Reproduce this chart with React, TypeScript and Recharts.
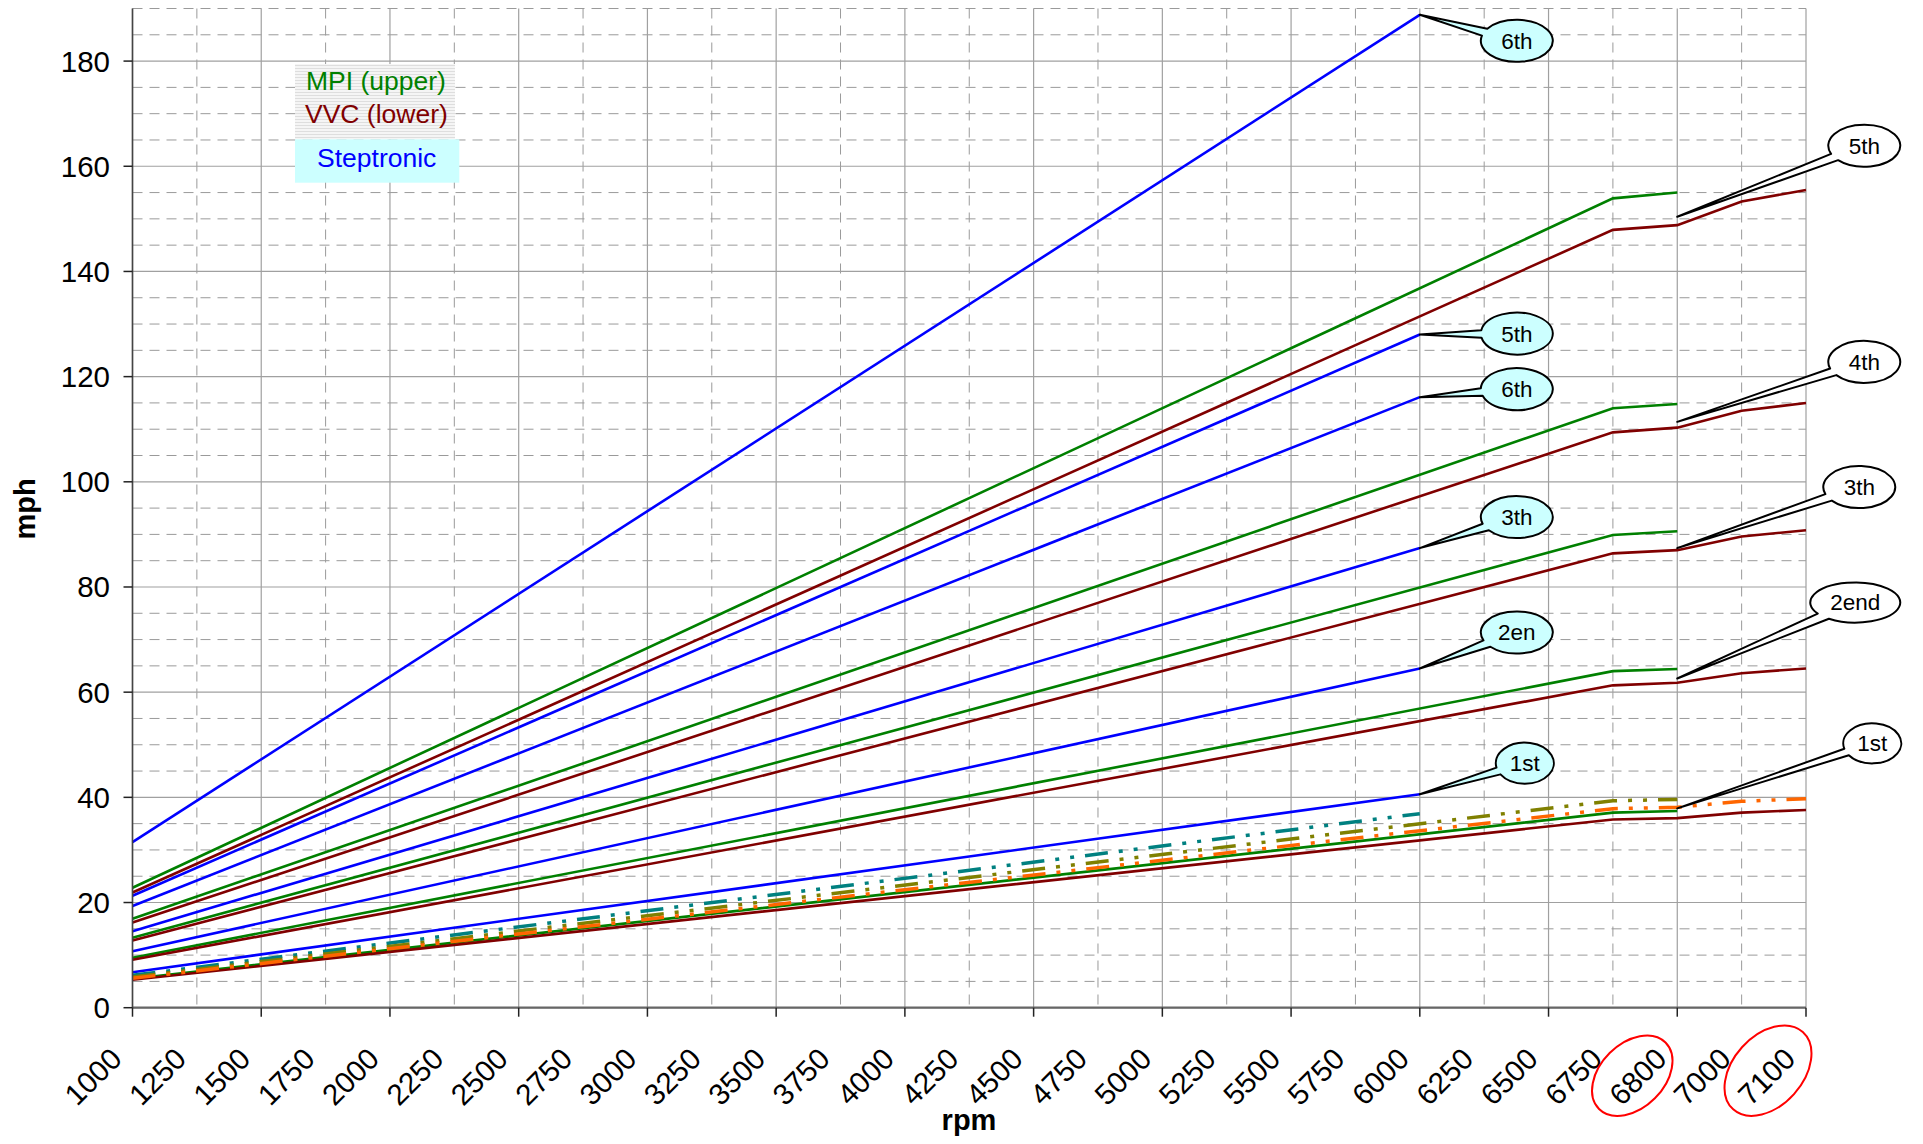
import React from 'react';
import { LineChart, Line, XAxis, YAxis, CartesianGrid, ReferenceDot } from 'recharts';

const FONT = '"Liberation Sans", Arial, Helvetica, sans-serif';
const N = null;

// ---------- categories / ticks ----------
const rpmCategories = ['1000', '1250', '1500', '1750', '2000', '2250', '2500', '2750', '3000', '3250', '3500', '3750', '4000', '4250', '4500', '4750', '5000', '5250', '5500', '5750', '6000', '6250', '6500', '6750', '6800', '7000', '7100'];
const majorRpm = ['1000', '1500', '2000', '2500', '3000', '3500', '4000', '4500', '5000', '5500', '6000', '6500', '6800', '7100'];
const minorRpm = ['1250', '1750', '2250', '2750', '3250', '3750', '4250', '4750', '5250', '5750', '6250', '6750', '7000'];
const circledRpm = ['6800', '7100'];
const yMajor = [0, 20, 40, 60, 80, 100, 120, 140, 160, 180];
const yMinor = [5, 10, 15, 25, 30, 35, 45, 50, 55, 65, 70, 75, 85, 90, 95, 105, 110, 115, 125, 130, 135, 145, 150, 155, 165, 170, 175, 185, 190];

// ---------- Steptronic (blue), 1000..6000 rpm ----------
const step6 = [31.5, N, N, N, N, N, N, N, N, N, N, N, N, N, N, N, N, N, N, N, 188.8, N, N, N, N, N, N];
const step5 = [21.3, N, N, N, N, N, N, N, N, N, N, N, N, N, N, N, N, N, N, N, 128.0, N, N, N, N, N, N];
const step4 = [19.35, N, N, N, N, N, N, N, N, N, N, N, N, N, N, N, N, N, N, N, 116.1, N, N, N, N, N, N];
const step3 = [14.55, N, N, N, N, N, N, N, N, N, N, N, N, N, N, N, N, N, N, N, 87.4, N, N, N, N, N, N];
const step2 = [10.75, N, N, N, N, N, N, N, N, N, N, N, N, N, N, N, N, N, N, N, 64.5, N, N, N, N, N, N];
const step1 = [6.75, N, N, N, N, N, N, N, N, N, N, N, N, N, N, N, N, N, N, N, 40.6, N, N, N, N, N, N];

// ---------- MPI (green), 1000..6800 rpm ----------
const mpi5 = [22.8, N, N, N, N, N, N, N, N, N, N, N, N, N, N, N, N, N, N, N, N, N, N, 153.9, 155.0, N, N];
const mpi4 = [16.9, N, N, N, N, N, N, N, N, N, N, N, N, N, N, N, N, N, N, N, N, N, N, 114.0, 114.8, N, N];
const mpi3 = [13.3, N, N, N, N, N, N, N, N, N, N, N, N, N, N, N, N, N, N, N, N, N, N, 89.9, 90.6, N, N];
const mpi2 = [9.5, N, N, N, N, N, N, N, N, N, N, N, N, N, N, N, N, N, N, N, N, N, N, 64.0, 64.4, N, N];
const mpi1 = [5.5, N, N, N, N, N, N, N, N, N, N, N, N, N, N, N, N, N, N, N, N, N, N, 37.1, 37.4, N, N];

// ---------- VVC (dark red), 1000..7100 rpm ----------
const vvc5 = [21.9, N, N, N, N, N, N, N, N, N, N, N, N, N, N, N, N, N, N, N, N, N, N, 147.9, 148.8, 153.3, 155.5];
const vvc4 = [16.2, N, N, N, N, N, N, N, N, N, N, N, N, N, N, N, N, N, N, N, N, N, N, 109.4, 110.3, 113.5, 115.0];
const vvc3 = [12.8, N, N, N, N, N, N, N, N, N, N, N, N, N, N, N, N, N, N, N, N, N, N, 86.4, 87.0, 89.6, 90.8];
const vvc2 = [9.1, N, N, N, N, N, N, N, N, N, N, N, N, N, N, N, N, N, N, N, N, N, N, 61.3, 61.8, 63.6, 64.5];
const vvc1 = [5.3, N, N, N, N, N, N, N, N, N, N, N, N, N, N, N, N, N, N, N, N, N, N, 35.8, 36.05, 37.1, 37.6];

// ---------- dash-dot-dot 1st gear variants ----------
const tealFirst = [6.15, N, N, N, N, N, N, N, N, N, N, N, N, N, N, N, N, N, N, N, 36.9, N, N, N, N, N, N];
const oliveFirst = [5.84, N, N, N, N, N, N, N, N, N, N, N, N, N, N, N, N, N, N, N, N, N, N, 39.35, 39.6, N, N];
const orangeFirst = [5.6, N, N, N, N, N, N, N, N, N, N, N, N, N, N, N, N, N, N, N, N, N, N, 37.85, 38.1, 39.25, 39.75];

// ---------- callouts ----------
const stepCalloutRpm = '6000';
const stepCalloutLabels = ['6th', '5th', '6th', '3th', '2en', '1st'];
const stepCalloutValues = [188.8, 128.0, 116.1, 87.4, 64.5, 40.6];
const engineCalloutRpm = '6800';
const engineCalloutLabels = ['5th', '4th', '3th', '2end', '1st'];
const engineCalloutValues = [150.4, 111.4, 87.4, 62.6, 37.9];

// styling for callouts (pixel offsets of the balloon from the pointed point)
const stepCalloutStyle = [
  { dx: 97, dy: 26, rx: 36, ry: 21 },
  { dx: 97, dy: -1, rx: 36, ry: 21 },
  { dx: 97, dy: -8, rx: 36, ry: 21 },
  { dx: 97, dy: -31, rx: 36, ry: 21 },
  { dx: 97, dy: -36, rx: 36, ry: 21 },
  { dx: 105, dy: -31, rx: 29, ry: 20.5 },
];
const engineCalloutStyle = [
  { dx: 187, dy: -71, rx: 36, ry: 21 },
  { dx: 187, dy: -60, rx: 36, ry: 21 },
  { dx: 182, dy: -61, rx: 36, ry: 21 },
  { dx: 178, dy: -76, rx: 45, ry: 20 },
  { dx: 195, dy: -65, rx: 29, ry: 20 },
];

const series = [
  { key: 'step6', values: step6, color: '#0000FF' },
  { key: 'step5', values: step5, color: '#0000FF' },
  { key: 'step4', values: step4, color: '#0000FF' },
  { key: 'step3', values: step3, color: '#0000FF' },
  { key: 'step2', values: step2, color: '#0000FF' },
  { key: 'step1', values: step1, color: '#0000FF' },
  { key: 'mpi5', values: mpi5, color: '#008000' },
  { key: 'mpi4', values: mpi4, color: '#008000' },
  { key: 'mpi3', values: mpi3, color: '#008000' },
  { key: 'mpi2', values: mpi2, color: '#008000' },
  { key: 'mpi1', values: mpi1, color: '#008000' },
  { key: 'vvc5', values: vvc5, color: '#800000' },
  { key: 'vvc4', values: vvc4, color: '#800000' },
  { key: 'vvc3', values: vvc3, color: '#800000' },
  { key: 'vvc2', values: vvc2, color: '#800000' },
  { key: 'vvc1', values: vvc1, color: '#800000' },
  { key: 'teal1', values: tealFirst, color: '#008080', dash: '23 11 4 11 4 11' },
  { key: 'olive1', values: oliveFirst, color: '#808000', dash: '23 11 4 11 4 11' },
  { key: 'orange1', values: orangeFirst, color: '#FF6600', dash: '23 11 4 11 4 11' },
];

const data = rpmCategories.map((rpm, i) => {
  const row: any = { rpm };
  series.forEach((s) => {
    row[s.key] = s.values[i];
  });
  return row;
});

const W = 1910;
const H = 1130;

const XTick = (props: any) => {
  const { x, y, payload } = props;
  const label = String(payload.value);
  const axisY = y - 9;
  const major = majorRpm.indexOf(label) >= 0;
  const ax = x - 9;
  const ay = axisY + 53;
  const ci = circledRpm.indexOf(label);
  return (
    <g>
      {major && <line x1={x} x2={x} y1={axisY} y2={axisY + 9} stroke="#222" strokeWidth={1.5} />}
      <text x={ax} y={ay} transform={`rotate(-45 ${ax} ${ay})`} textAnchor="end" fontSize={29.5} fontFamily={FONT} fill="#000">
        {label}
      </text>
      {ci === 0 && (
        <ellipse cx={x - 45} cy={axisY + 68} rx={47} ry={32} transform={`rotate(-45 ${x - 45} ${axisY + 68})`} fill="none" stroke="#FF0000" strokeWidth={2} />
      )}
      {ci === 1 && (
        <ellipse cx={x - 38} cy={axisY + 63} rx={52} ry={35} transform={`rotate(-48 ${x - 38} ${axisY + 63})`} fill="none" stroke="#FF0000" strokeWidth={2} />
      )}
    </g>
  );
};

const makeCallout = (label: string, st: any, fill: string) => (props: any) => {
  const { cx, cy } = props;
  if (cx == null || cy == null) return <g />;
  const ex = cx + st.dx;
  const ey = cy + st.dy;
  const phi = Math.atan2((cy - ey) / st.ry, (cx - ex) / st.rx);
  const d = 0.18;
  const b1x = ex + st.rx * Math.cos(phi + d);
  const b1y = ey + st.ry * Math.sin(phi + d);
  const b2x = ex + st.rx * Math.cos(phi - d);
  const b2y = ey + st.ry * Math.sin(phi - d);
  const path = `M ${b1x} ${b1y} L ${cx} ${cy} L ${b2x} ${b2y} A ${st.rx} ${st.ry} 0 1 0 ${b1x} ${b1y} Z`;
  return (
    <g>
      <path d={path} fill={fill} stroke="#000" strokeWidth={2} strokeLinejoin="round" />
      <text x={ex} y={ey + 8} textAnchor="middle" fontSize={22.5} fontFamily={FONT} fill="#000">
        {label}
      </text>
    </g>
  );
};

export default function App() {
  return (
    <div style={{ position: 'relative', width: W, height: H }}>
      <LineChart width={W} height={H} data={data} margin={{ top: 0.5, right: 112, bottom: 0, left: 0 }}>
        <CartesianGrid horizontalValues={yMinor} verticalValues={minorRpm} stroke="#9a9a9a" strokeWidth={1} strokeDasharray="10 7" />
        <CartesianGrid horizontalValues={yMajor} verticalValues={majorRpm} stroke="#a0a0a0" strokeWidth={1.2} />
        <XAxis
          dataKey="rpm"
          type="category"
          interval={0}
          tick={<XTick />}
          tickLine={false}
          tickSize={9}
          tickMargin={0}
          height={130.3}
          axisLine={{ stroke: '#666', strokeWidth: 2.2 }}
        />
        <YAxis
          type="number"
          domain={[0, 190]}
          ticks={yMajor}
          interval={0}
          width={124.5}
          tickSize={9}
          tickMargin={13.5}
          tick={{ fill: '#000', fontSize: 29.5, fontFamily: FONT }}
          tickLine={{ stroke: '#222', strokeWidth: 1.5 }}
          axisLine={{ stroke: '#444', strokeWidth: 1.6 }}
        />
        {series.map((s) => (
          <Line
            key={s.key}
            type="linear"
            dataKey={s.key}
            stroke={s.color}
            strokeWidth={s.dash ? 3.5 : 2.6}
            strokeDasharray={s.dash}
            dot={false}
            activeDot={false}
            connectNulls
            isAnimationActive={false}
          />
        ))}
        {stepCalloutLabels.map((lab, i) => (
          <ReferenceDot
            key={'sc' + i}
            x={stepCalloutRpm}
            y={stepCalloutValues[i]}
            r={0}
            ifOverflow="visible"
            shape={makeCallout(lab, stepCalloutStyle[i], '#CCFFFF')}
          />
        ))}
        {engineCalloutLabels.map((lab, i) => (
          <ReferenceDot
            key={'ec' + i}
            x={engineCalloutRpm}
            y={engineCalloutValues[i]}
            r={0}
            ifOverflow="visible"
            shape={makeCallout(lab, engineCalloutStyle[i], '#FFFFFF')}
          />
        ))}
      </LineChart>
      <svg width={W} height={H} style={{ position: 'absolute', left: 0, top: 0, pointerEvents: 'none' }}>
        <defs>
          <pattern id="hstripe" width="4" height="3" patternUnits="userSpaceOnUse">
            <rect width="4" height="3" fill="#f5f5f5" />
            <rect width="4" height="1" fill="#dedede" />
          </pattern>
        </defs>
        <rect x={287} y={56} width={160} height={75.3} fill="url(#hstripe)" />
        <rect x={287} y={131.3} width={164.3} height={43.4} fill="#CCFFFF" />
        <text x={298} y={82} fontSize={26.5} fontFamily={FONT} fill="#008000">MPI (upper)</text>
        <text x={297} y={114.5} fontSize={26.5} fontFamily={FONT} fill="#800000">VVC (lower)</text>
        <text x={309} y={159} fontSize={26.5} fontFamily={FONT} fill="#0000FF">Steptronic</text>
        <text x={16.5} y={501} transform="rotate(-90 16.5 501)" textAnchor="middle" dominantBaseline="central" fontSize={29} fontWeight="bold" fontFamily={FONT} fill="#000">mph</text>
        <text x={961} y={1122} textAnchor="middle" fontSize={29} fontWeight="bold" fontFamily={FONT} fill="#000">rpm</text>
      </svg>
    </div>
  );
}
